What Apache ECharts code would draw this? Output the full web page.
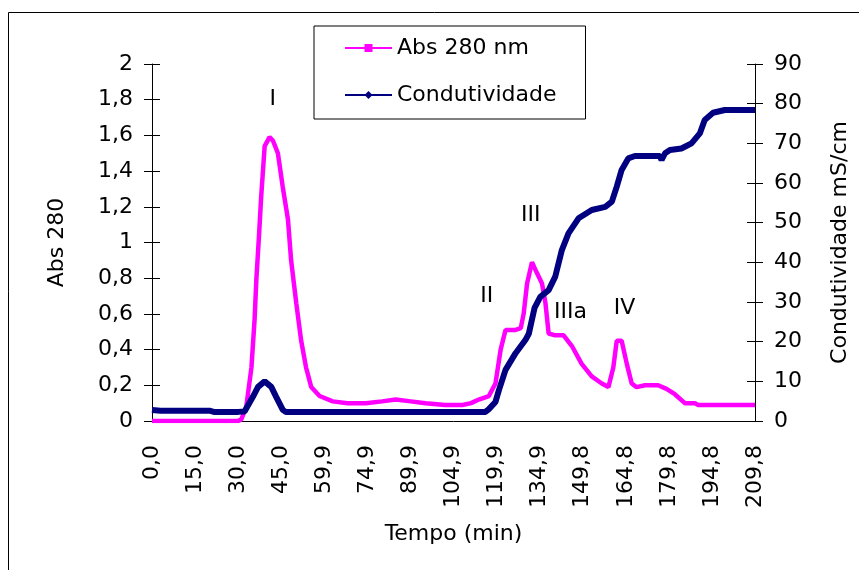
<!DOCTYPE html>
<html>
<head>
<meta charset="utf-8">
<script src="https://cdn.jsdelivr.net/npm/echarts@6/dist/echarts.min.js"></script>
<style>
  html, body { margin: 0; padding: 0; background: #fff; }
  #chart { width: 859px; height: 570px; }
</style>
</head>
<body>
<div id="chart"></div>
<script>
// tick labels of the time axis (min)
var timeLabels = ["0,0", "15,0", "30,0", "45,0", "59,9", "74,9", "89,9", "104,9",
    "119,9", "134,9", "149,8", "164,8", "179,8", "194,8", "209,8"]
var timeMax = 209.8

// Abs 280 nm
var absTime = [0, 10, 20, 30, 31.1, 32.8, 34.6, 35.7, 36.3, 37.2, 38.0, 39.2, 40.9, 42.1,
    43.8, 45.5, 47.3, 48.4, 50.2, 51.9, 53.6, 55.4, 58.3, 62.9, 68, 74.4, 80, 84.8, 90,
    95.2, 102, 108, 111, 113.7, 117.2, 119.5, 121.3, 123.0, 126.5, 128.3, 129.3, 130.5,
    132.2, 133.9, 135.7, 136.9, 138.0, 140.3, 143.2, 146.1, 149.5, 153.0, 156.5, 158.8,
    160.5, 161.7, 163.4, 165.2, 166.9, 168.6, 171.5, 176.1, 179, 181.9, 185.4, 188.9,
    190, 200, 209.8]
var absValues = [0, 0, 0, 0, 0.01, 0.08, 0.30, 0.57, 0.79, 1.03, 1.26, 1.54, 1.59, 1.57,
    1.50, 1.31, 1.13, 0.90, 0.66, 0.45, 0.30, 0.19, 0.14, 0.11, 0.10, 0.10, 0.11, 0.12, 0.11,
    0.10, 0.09, 0.09, 0.10, 0.12, 0.14, 0.21, 0.40, 0.51, 0.51, 0.52, 0.60, 0.77,
    0.89, 0.83, 0.77, 0.66, 0.49, 0.48, 0.48, 0.42, 0.32, 0.25, 0.21, 0.19,
    0.30, 0.45, 0.45, 0.32, 0.21, 0.19, 0.20, 0.20, 0.18, 0.15, 0.10, 0.10,
    0.09, 0.09, 0.09]

// Condutividade (mS/cm)
var condTime = [0, 3, 10, 20, 21.5, 30, 32.2, 32.8, 35.1, 36.9, 39.2, 41.5, 43.2, 45.5,
    46.5, 60, 80, 100, 116, 117.2, 119.5, 120.7, 123.0, 126.5, 129.9, 131.1, 133.1, 135.1,
    138.0, 140.3, 142.6, 144.9, 148.4, 153.0, 157.7, 160.0, 161.7, 163.4, 165.7, 168.0,
    176.7, 177.3, 178.5, 180.2, 184.2, 187.7, 190.6, 192.3, 195.2, 199.3, 209.8]
var condValues = [2.8, 2.6, 2.6, 2.6, 2.3, 2.3, 2.4, 2.8, 6.1, 8.6, 10.0, 8.6, 6.1, 2.8,
    2.3, 2.3, 2.3, 2.3, 2.3, 3.0, 4.8, 7.8, 12.9, 17.1, 20.4, 22.0, 28.5, 31.3,
    33.0, 36.4, 43.1, 47.3, 51.1, 53.2, 54.0, 55.3, 59.1, 63.3, 66.2, 66.8,
    66.8, 65.8, 67.5, 68.3, 68.7, 70.0, 72.5, 75.9, 77.7, 78.4, 78.4]

// peak names and where they are written (time, Abs)
var peakNames = ["I", "II", "III", "IIIa", "IV"]
var peakTimes = [42.0, 116.5, 131.8, 145.6, 164.4]
var peakAbs = [1.80, 0.70, 1.15, 0.61, 0.63]

var font = "DejaVu Sans"
var step = timeMax / (timeLabels.length - 1)

function pairs(xs, ys) {
    return xs.map((x, i) => [x, ys[i]])
}

function comma(v) {
    return String(Math.round(v * 10) / 10).replace(".", ",")
}

var chart = echarts.init(document.getElementById("chart"))
chart.setOption({
    animation: false,
    textStyle: { fontFamily: font },
    grid: { left: 152, right: 102, top: 64, bottom: 149 },
    legend: {
        orient: "vertical",
        left: 314,
        top: 26,
        padding: [11, 29, 13, 30],
        borderColor: "#000",
        borderWidth: 1,
        itemWidth: 47,
        itemHeight: 10,
        itemGap: 25,
        textStyle: { fontSize: 22, color: "#000", fontFamily: font },
        lineStyle: { width: 2 },
        data: ["Abs 280 nm", "Condutividade"]
    },
    xAxis: {
        type: "value",
        min: 0,
        max: timeMax,
        interval: step,
        name: "Tempo (min)",
        nameLocation: "middle",
        nameGap: 102,
        nameTextStyle: { fontSize: 22, color: "#000", fontFamily: font },
        axisLine: { lineStyle: { color: "#000", width: 1 } },
        axisTick: { show: false },
        splitLine: { show: false },
        axisLabel: {
            rotate: 90,
            margin: 24,
            fontSize: 22,
            color: "#000",
            fontFamily: font,
            formatter: v => timeLabels[Math.round(v / step)]
        }
    },
    yAxis: [{
        type: "value",
        position: "left",
        min: 0,
        max: 2,
        interval: 0.2,
        name: "Abs 280",
        nameLocation: "middle",
        nameGap: 84,
        nameTextStyle: { fontSize: 22, color: "#000", fontFamily: font },
        axisLine: { show: true, lineStyle: { color: "#000", width: 1 } },
        axisTick: { show: true, length: 8, lineStyle: { color: "#000" } },
        splitLine: { show: false },
        axisLabel: { margin: 19, fontSize: 22, color: "#000", fontFamily: font, formatter: comma }
    }, {
        type: "value",
        position: "right",
        min: 0,
        max: 90,
        interval: 10,
        name: "Condutividade mS/cm",
        nameLocation: "middle",
        nameGap: 74,
        nameRotate: 90,
        nameTextStyle: { fontSize: 22, color: "#000", fontFamily: font },
        axisLine: { show: true, lineStyle: { color: "#000", width: 1 } },
        axisTick: { show: true, length: 8, lineStyle: { color: "#000" } },
        splitLine: { show: false },
        axisLabel: { margin: 19, fontSize: 22, color: "#000", fontFamily: font }
    }, {
        // inner half of the crossing ticks, left
        type: "value",
        position: "left",
        min: 0,
        max: 2,
        interval: 0.2,
        axisLine: { show: false },
        axisTick: { show: true, inside: true, length: 8, lineStyle: { color: "#000" } },
        axisLabel: { show: false },
        splitLine: { show: false }
    }, {
        // inner half of the crossing ticks, right
        type: "value",
        position: "right",
        min: 0,
        max: 90,
        interval: 10,
        axisLine: { show: false },
        axisTick: { show: true, inside: true, length: 8, lineStyle: { color: "#000" } },
        axisLabel: { show: false },
        splitLine: { show: false }
    }],
    series: [{
        name: "Abs 280 nm",
        type: "line",
        yAxisIndex: 0,
        data: pairs(absTime, absValues),
        showSymbol: false,
        symbol: "rect",
        symbolSize: 5,
        color: "#FF00FF",
        lineStyle: { width: 4.5, color: "#FF00FF" },
        z: 3,
        markPoint: {
            symbol: "circle",
            symbolSize: 1,
            itemStyle: { color: "rgba(0,0,0,0)" },
            label: {
                show: true,
                position: "inside",
                fontSize: 22,
                color: "#000",
                fontFamily: font,
                formatter: p => p.name
            },
            data: peakNames.map((n, i) => ({ name: n, coord: [peakTimes[i], peakAbs[i]] }))
        }
    }, {
        name: "Condutividade",
        type: "line",
        yAxisIndex: 1,
        data: pairs(condTime, condValues),
        showSymbol: false,
        symbol: "diamond",
        symbolSize: 7,
        color: "#000080",
        lineStyle: { width: 6, color: "#000080" },
        z: 4
    }],
    graphic: [{
        type: "rect",
        shape: { x: 8.5, y: 12.5, width: 900, height: 600 },
        style: { fill: null, stroke: "#000", lineWidth: 1 },
        silent: true
    }]
})
</script>
</body>
</html>
